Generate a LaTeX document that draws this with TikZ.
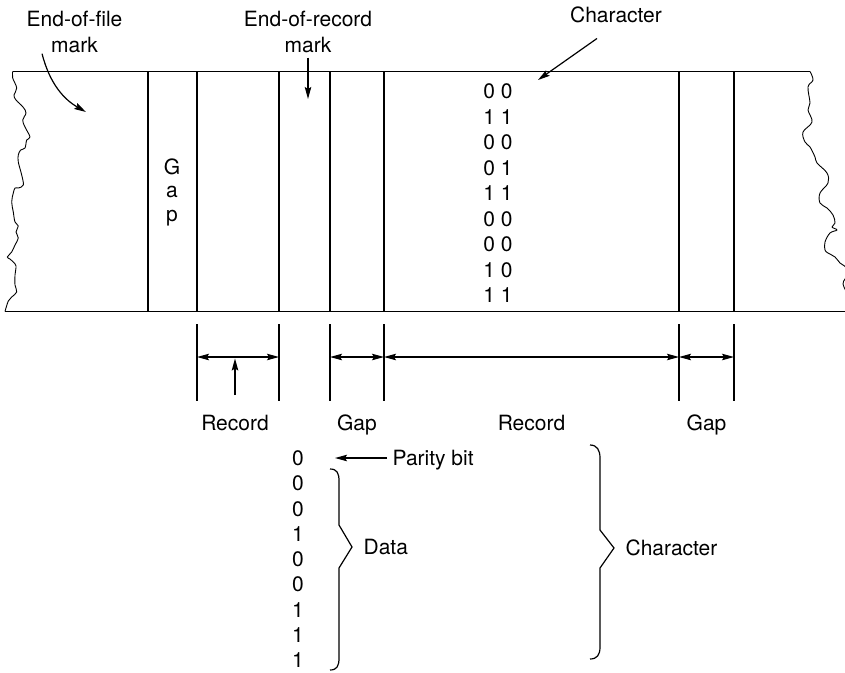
\documentclass[tikz,border=0pt]{standalone}
\usepackage{fontspec}
\setmainfont{TeX Gyre Heros}
\usetikzlibrary{arrows.meta,positioning}

\begin{document}
\begin{tikzpicture}[x=1pt, y=-1pt, >={Stealth[length=12pt,width=6.5pt,inset=2pt]}, line width=1.2pt,
font=\fontsize{21}{26.5}\selectfont,
txt/.style={inner sep=0pt, align=center},
rough/.style={line width=0.9pt, line join=round}]
  \useasboundingbox (0,0) rectangle (845,672);
  % the tape
  \draw (12.7,71.5) -- (810,71.5);
  \draw (5,311.5) -- (850,311.5);
  \draw[rough] plot[smooth, tension=0.6] coordinates {(12.7,71.5) (12.7,78) (16.7,88) (14,95) (16,100) (23,107) (26,113) (22.7,120) (25,127) (30,137) (26.7,140) (25,148) (20.7,150) (18.3,155) (18.3,162) (21.7,175) (23.3,185) (18.3,188) (15,188) (13.3,193) (11.7,202) (13.3,212) (15,222) (18.3,226) (16,232) (18.3,238) (15,245) (11.7,252) (7.3,257) (10,259) (13.3,262) (16,266) (15,275) (15,285) (16.7,292) (11.7,297) (8.3,301) (5,311.5)};
  \draw[rough] plot[smooth, tension=0.6] coordinates {(810,71.5) (813,80) (808,87) (810,103) (808,110) (812,122) (803,132) (805,142) (810,147) (815,157) (817,163) (827,173) (828,183) (820,193) (820,203) (827,208) (833,215) (835,223) (832,227) (837,230) (830,233) (825,242) (825,250) (828,253) (835,257) (840,263) (847,268) (849,275) (845,279) (843,284) (846,291) (851,300)};
  \foreach \x in {148,197,279,330,384,679,734}
    \draw (\x,71.5) -- (\x,311.5);
  % labels over the tape
  \node[txt] (eof) at (74.5,32) {End-of-file\\mark};
  \node[txt] (eor) at (308,32) {End-of-record\\mark};
  \node[txt, anchor=base] (chartop) at (616,22.5) {Character};
  \coordinate (eofmark) at (86,112);
  \coordinate (eormark) at (308,99);
  \coordinate (charmark) at (538,80);
  \draw[->] ([xshift=16pt]eof.south west) .. controls (50,85) and (65,100) .. (eofmark);
  \draw[->, shorten <=4pt] (eor) -- (eormark);
  \draw[->] ([xshift=-19pt,yshift=-15pt]chartop.south) -- (charmark);
  % gap and the bits on the tape
  \node[txt, font=\fontsize{21}{23.5}\selectfont] (gap) at (172,192) {G\\a\\p};
  \foreach \b [count=\i from 0] in {0 0,1 1,0 0,0 1,1 1,0 0,0 0,1 0,1 1}
    \node[txt, anchor=base] (tb\i) at (498,98.5+25.5*\i) {\b};
  % lengths under the tape
  \foreach \n/\x in {1/197,2/279,3/330,4/384,5/679,6/734}{
    \coordinate (d\n) at (\x,357);
    \draw (\x,324) -- (\x,401);
  }
  \draw[<->] (d1) -- (d2);
  \draw[<->] (d3) -- (d4);
  \draw[<->] (d4) -- (d5);
  \draw[<->] (d5) -- (d6);
  \node[txt, anchor=base] (rec1) at (235,430) {Record};
  \node[txt, anchor=base] (gap1) at (357,430) {Gap};
  \node[txt, anchor=base] (rec2) at (531.5,430) {Record};
  \node[txt, anchor=base] (gap2) at (706.5,430) {Gap};
  \coordinate (recmark) at (235,358.5);
  \draw[->] ([yshift=19pt]rec1.north) -- (recmark);
  % one character
  \foreach \b [count=\i from 0] in {0,0,0,1,0,0,1,1,1}
    \node[txt, anchor=base] (pb\i) at (298,465.5+25.25*\i) {\b};
  \node[txt, anchor=base west] (parity) at (392,465.5) {Parity bit};
  \coordinate (paritymark) at (335,458);
  \draw[->, shorten <=5pt] (parity.west |- paritymark) -- (paritymark);
  \draw (330,469) .. controls (337,469) and (339,473) .. (339,481) -- (339,525) -- (352,547) -- (339,568) -- (339,658) .. controls (339,666) and (337,670) .. (330,670);
  \node[txt, anchor=base west] (data) at (363,554.5) {Data};
  \draw (590,445) .. controls (597,445) and (600,450) .. (600,458) -- (600,530) -- (614,548) -- (600,568) -- (600,647) .. controls (600,655) and (597,659) .. (590,659);
  \node[txt, anchor=base west] (charlow) at (625,555.5) {Character};
\end{tikzpicture}
\end{document}
